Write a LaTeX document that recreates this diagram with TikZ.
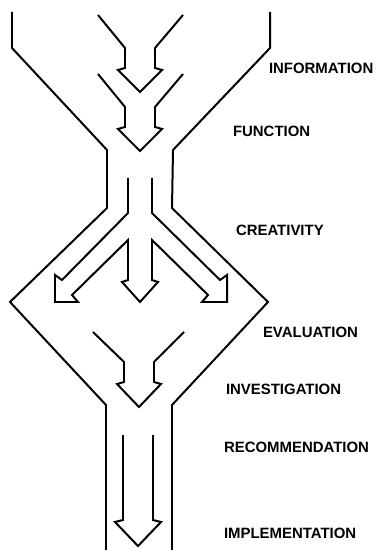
\documentclass[tikz,border=0pt]{standalone}
\usepackage{fontspec}
\setmainfont{Liberation Sans}
\usepackage{tikz}

\begin{document}
\begin{tikzpicture}[x=1bp,y=-1bp,line width=2pt,
    stage/.style={anchor=west,inner sep=0pt,font=\bfseries\fontsize{15}{17}\selectfont}]
    \useasboundingbox (0,0) rectangle (377,550);
    % outer walls of the funnel
    \draw (12,12)--(12,48)--(107,150)--(107,208)--(10,302)--(106,405)--(106,550);
    \draw (270,12)--(270,48)--(173,150)--(172,208)--(268,302)--(172,405)--(172,550);
    % two arrows at the top
    \foreach \y in {0,59}{
      \draw (98,15+\y)--(125,48+\y)--(125,68+\y)--(118,70+\y)--(140,92+\y)
            --(162,70+\y)--(155,68+\y)--(155,48+\y)--(183,15+\y); }
    % three arrows out of the neck
    \draw (128,178)--(128,213)--(62,280)--(55,275)--(55,302)--(78,302)--(72,295)
          --(128,240)--(128,280)--(122,282)--(140,302)--(158,282)--(152,280)
          --(152,240)--(208,295)--(202,302)--(227,302)--(227,275)--(220,280)
          --(152,213)--(152,178);
    % arrow into the lower neck
    \draw (93,332)--(124,362)--(124,382)--(117,384)--(139,407)--(161,384)
          --(154,382)--(154,362)--(184,332);
    % long arrow at the bottom
    \draw (123,435)--(123,520)--(115,522)--(138,546)--(161,522)--(153,520)--(153,435);
    % stage names
    \node[stage] (info) at (268,68) {INFORMATION};
    \node[stage] (func) at (232,131) {FUNCTION};
    \node[stage] (crea) at (235,230) {CREATIVITY};
    \node[stage] (eval) at (262,332) {EVALUATION};
    \node[stage] (inve) at (225,389) {INVESTIGATION};
    \node[stage] (reco) at (223,447) {RECOMMENDATION};
    \node[stage] (impl) at (223,533) {IMPLEMENTATION};
\end{tikzpicture}
\end{document}
